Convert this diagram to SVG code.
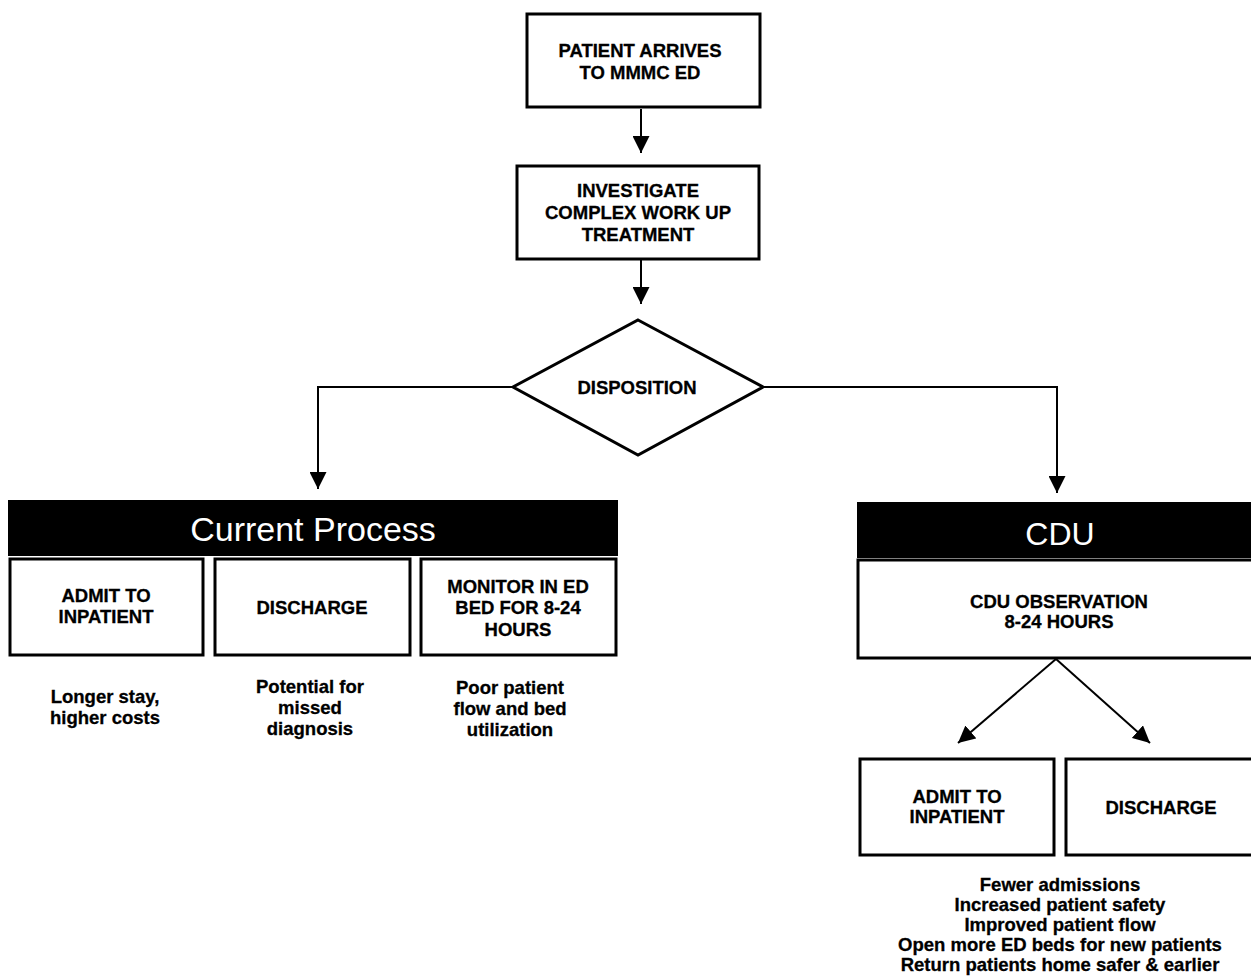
<svg xmlns="http://www.w3.org/2000/svg" width="1251" height="978" viewBox="0 0 1251 978">
<defs>
<marker id="ah" viewBox="0 0 10 10" refX="10" refY="5" markerWidth="8.5" markerHeight="8.5" markerUnits="strokeWidth" orient="auto">
<path d="M0,0 L10,5 L0,10 Z" fill="#000"/>
</marker>
<style>
.box{fill:#fff;stroke:#000;stroke-width:3}
.hdr{fill:#000}
.t{font-family:"Liberation Sans",Arial,sans-serif;font-weight:bold;font-size:18.5px;text-anchor:middle;fill:#000;stroke:#000;stroke-width:0.3}
.h{font-family:"Liberation Sans",Arial,sans-serif;font-size:32px;text-anchor:middle;fill:#fff}
.c{fill:none;stroke:#000;stroke-width:2}
</style>
</defs>
<rect width="1251" height="978" fill="#fff"/>
<g id="connectors">
<line class="c" x1="641" y1="109" x2="641" y2="153" marker-end="url(#ah)"/>
<line class="c" x1="641" y1="260" x2="641" y2="304" marker-end="url(#ah)"/>
<polyline class="c" points="513,387 318,387 318,489" marker-end="url(#ah)"/>
<polyline class="c" points="763,387 1057,387 1057,493" marker-end="url(#ah)"/>
<line class="c" x1="1056" y1="659" x2="958" y2="743" marker-end="url(#ah)"/>
<line class="c" x1="1056" y1="659" x2="1150" y2="743" marker-end="url(#ah)"/>
</g>
<g id="n1">
<rect class="box" x="527" y="14" width="233" height="93"/>
<text class="t" x="640" y="57">PATIENT ARRIVES</text>
<text class="t" x="640" y="79">TO MMMC ED</text>
</g>
<g id="n2">
<rect class="box" x="517" y="166" width="242" height="93"/>
<text class="t" x="638" y="197">INVESTIGATE</text>
<text class="t" x="638" y="219">COMPLEX WORK UP</text>
<text class="t" x="638" y="241">TREATMENT</text>
</g>
<g id="n3">
<polygon class="box" points="638,320 763,387 638,455 513,387"/>
<text class="t" x="637" y="394">DISPOSITION</text>
</g>
<g id="current">
<rect class="hdr" x="8" y="500" width="610" height="56"/>
<text class="h" x="313" y="541" style="font-size:34px">Current Process</text>
</g>
<g id="c1">
<rect class="box" x="10" y="559" width="193" height="96"/>
<text class="t" x="106" y="602">ADMIT TO</text>
<text class="t" x="106" y="623">INPATIENT</text>
<text class="t" x="105" y="703">Longer stay,</text>
<text class="t" x="105" y="724">higher costs</text>
</g>
<g id="c2">
<rect class="box" x="215" y="559" width="195" height="96"/>
<text class="t" x="312" y="614">DISCHARGE</text>
<text class="t" x="310" y="693">Potential for</text>
<text class="t" x="310" y="714">missed</text>
<text class="t" x="310" y="735">diagnosis</text>
</g>
<g id="c3">
<rect class="box" x="421" y="559" width="195" height="96"/>
<text class="t" x="518" y="593">MONITOR IN ED</text>
<text class="t" x="518" y="614">BED FOR 8-24</text>
<text class="t" x="518" y="636">HOURS</text>
<text class="t" x="510" y="694">Poor patient</text>
<text class="t" x="510" y="715">flow and bed</text>
<text class="t" x="510" y="736">utilization</text>
</g>
<g id="cdu">
<rect class="hdr" x="857" y="502" width="394" height="56"/>
<text class="h" x="1060" y="545">CDU</text>
</g>
<g id="obs">
<rect class="box" x="858" y="560" width="400" height="98"/>
<text class="t" x="1059" y="608">CDU OBSERVATION</text>
<text class="t" x="1059" y="628">8-24 HOURS</text>
</g>
<g id="d1">
<rect class="box" x="860" y="759" width="194" height="96"/>
<text class="t" x="957" y="803">ADMIT TO</text>
<text class="t" x="957" y="823">INPATIENT</text>
</g>
<g id="d2">
<rect class="box" x="1066" y="759" width="200" height="96"/>
<text class="t" x="1161" y="814">DISCHARGE</text>
</g>
<g id="benefits">
<text class="t" x="1060" y="891">Fewer admissions</text>
<text class="t" x="1060" y="911">Increased patient safety</text>
<text class="t" x="1060" y="931">Improved patient flow</text>
<text class="t" x="1060" y="951">Open more ED beds for new patients</text>
<text class="t" x="1060" y="971">Return patients home safer &amp; earlier</text>
</g>
</svg>
